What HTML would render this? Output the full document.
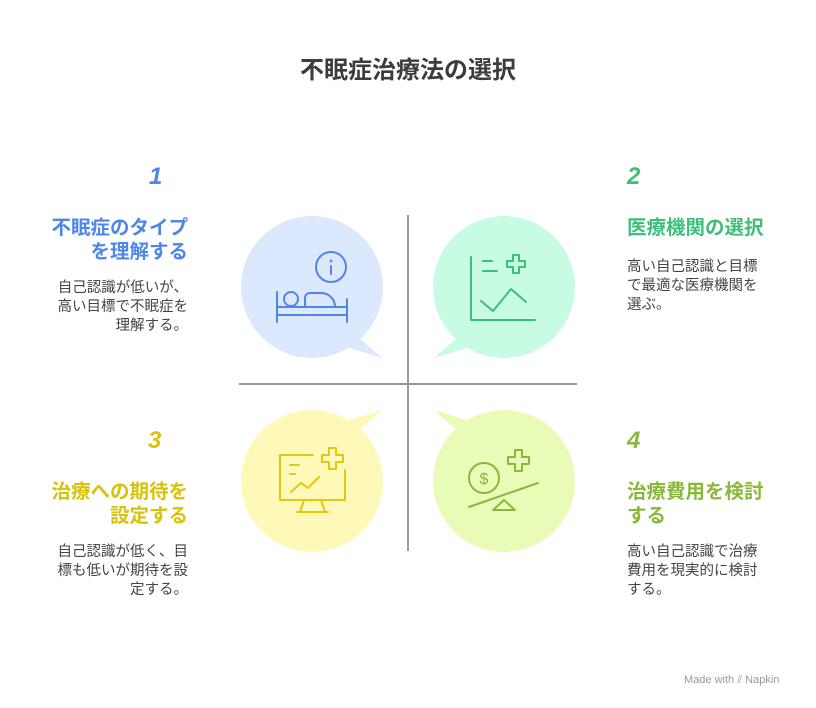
<!DOCTYPE html>
<html><head><meta charset="utf-8"><style>
body{margin:0;background:#fff;width:816px;height:708px;overflow:hidden;position:relative;font-family:"Liberation Sans","Noto Sans CJK JP",sans-serif}
.a{position:absolute;white-space:nowrap}
.t{left:0;width:816px;top:50px;text-align:center;font-size:24px;font-weight:bold;color:#3c3c3c}
.n{font-size:24px;font-weight:bold;font-style:italic;line-height:28px}
.h{font-size:19.5px;font-weight:bold;line-height:24px}
.b{font-size:14.5px;line-height:19px;color:#444}
.l{text-align:right;right:628px}
.r{left:627px;text-align:left}
</style></head><body>
<div class="a t">不眠症治療法の選択</div>
<svg class="a" style="left:0;top:0" width="816" height="708">
<g>
<circle cx="312" cy="287" r="71" fill="#dbe8fd"/><polygon points="350,330 382,358 340,345" fill="#dbe8fd"/>
<circle cx="504" cy="287" r="71" fill="#c8fce2"/><polygon points="466,330 434,358 476,345" fill="#c8fce2"/>
<circle cx="312" cy="481" r="71" fill="#fef8b9"/><polygon points="350,438 382,410 340,423" fill="#fef8b9"/>
<circle cx="504" cy="481" r="71" fill="#e8fcb8"/><polygon points="466,438 434,410 476,423" fill="#e8fcb8"/>
</g>
<line x1="408" y1="215" x2="408" y2="551" stroke="#999" stroke-width="2"/>
<line x1="239" y1="384" x2="577" y2="384" stroke="#999" stroke-width="2"/>
<g fill="none" stroke="#4f86e8" stroke-width="2" stroke-linecap="round">
<circle cx="331" cy="267" r="15"/><line x1="331" y1="266" x2="331" y2="274"/><circle cx="331" cy="261" r="0.5"/>
<line x1="277" y1="292" x2="277" y2="322"/><line x1="347" y1="299" x2="347" y2="322"/>
<line x1="277" y1="307" x2="347" y2="307"/><line x1="277" y1="315" x2="347" y2="315"/>
<circle cx="291" cy="299" r="7"/><path d="M305,306 V298 a5,5 0 0 1 5,-5 h10 a14,14 0 0 1 15,13"/>
</g>
<g fill="none" stroke="#3dbf7a" stroke-width="2" stroke-linecap="round" stroke-linejoin="round">
<path d="M471,257 V320 H535"/><line x1="483" y1="261" x2="492" y2="261"/><line x1="483" y1="271" x2="497" y2="271"/>
<path d="M481,301 L493,311 L511,289 L526,302"/>
<path d="M513,255 h6 v6 h6 v6 h-6 v6 h-6 v-6 h-6 v-6 h6z"/>
</g>
<g fill="none" stroke="#e0c910" stroke-width="2" stroke-linecap="round" stroke-linejoin="round">
<path d="M313,455 H280 V500 H345 V470"/><line x1="290" y1="465" x2="299" y2="465"/><line x1="290" y1="474" x2="295" y2="474"/>
<path d="M291,492 L301,483 L308,488 L319,477"/>
<path d="M304,500 L300,512 M321,500 L325,512 M297,512 H328"/>
<path d="M329,448 h7 v7 h7 v7 h-7 v7 h-7 v-7 h-7 v-7 h7z"/>
</g>
<g fill="none" stroke="#8ab83c" stroke-width="2" stroke-linecap="round" stroke-linejoin="round">
<circle cx="484" cy="478" r="15"/><text x="484" y="484" font-size="16" text-anchor="middle" fill="#8ab83c" stroke="none" font-family="Liberation Sans">$</text>
<line x1="469" y1="507" x2="538" y2="483"/><path d="M504,500 L493,510 H515z"/>
<path d="M515,450 h7 v7 h7 v7 h-7 v7 h-7 v-7 h-7 v-7 h7z"/>
</g>
</svg>
<div class="a n" style="left:149px;top:163px;color:#4f86e8">1</div>
<div class="a h l" style="top:216px;color:#4f86e8">不眠症のタイプ<br>を理解する</div>
<div class="a b l" style="top:279px">自己認識が低いが、<br>高い目標で不眠症を<br>理解する。</div>
<div class="a n r" style="top:163px;color:#3dbf7a">2</div>
<div class="a h r" style="top:216px;color:#3dbf7a">医療機関の選択</div>
<div class="a b r" style="top:258px">高い自己認識と目標<br>で最適な医療機関を<br>選ぶ。</div>
<div class="a n" style="left:148px;top:427px;color:#d8c20a">3</div>
<div class="a h l" style="top:480px;color:#d8c20a">治療への期待を<br>設定する</div>
<div class="a b l" style="top:543px">自己認識が低く、目<br>標も低いが期待を設<br>定する。</div>
<div class="a n r" style="top:427px;color:#8ab83c">4</div>
<div class="a h r" style="top:480px;color:#8ab83c">治療費用を検討<br>する</div>
<div class="a b r" style="top:543px">高い自己認識で治療<br>費用を現実的に検討<br>する。</div>
<div class="a" style="left:684px;top:674px;font-size:11px;color:#999">Made with ⫽ Napkin</div>
</body></html>
